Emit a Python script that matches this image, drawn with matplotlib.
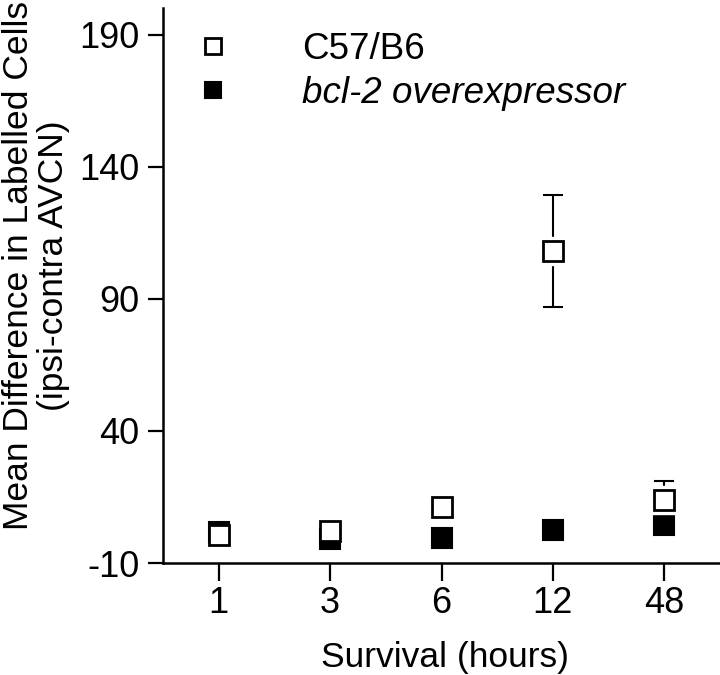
import numpy as np
import matplotlib
matplotlib.use('Agg')
import matplotlib.pyplot as plt
from matplotlib.lines import Line2D

plt.rcParams['font.family'] = ['Liberation Sans', 'DejaVu Sans']

# survival times (hours), plotted as evenly spaced categories
survival = ['1', '3', '6', '12', '48']
c57_mean = [0.5, 2.0, 11.2, 107.9, 13.9]
c57_err = [0, 0, 0, 21.2, 7.3]
bcl2_mean = [1.8, -0.9, -0.4, 2.5, 4.5]
yticks = [-10, 40, 90, 140, 190]

x = np.arange(len(survival))
c57_mean = np.array(c57_mean)
c57_err = np.array(c57_err)

fig = plt.figure(figsize=(7.2, 6.75), dpi=100)
ax = fig.add_axes([0.2264, 0.1659, 0.7736, 0.8221])

ms = 14
ax.plot(x, bcl2_mean, ls='none', marker='s', ms=ms, mfc='black', mec='black',
        mew=1.5, zorder=2, clip_on=False)

# error bars for C57/B6 with a small white gap around the marker
has_err = c57_err > 0
ax.errorbar(x[has_err], c57_mean[has_err], yerr=c57_err[has_err], fmt='none',
            ecolor='black', elinewidth=1.5, capsize=7.5, capthick=1.5, zorder=3)
ax.plot(x[has_err], c57_mean[has_err], ls='none', marker='s', ms=ms + 6,
        mfc='white', mec='white', zorder=4)
ax.plot(x, c57_mean, ls='none', marker='s', ms=ms, mfc='white', mec='black',
        mew=2.0, zorder=5, clip_on=False)

ax.set_xlim(-0.5, 4.5)
ax.set_ylim(-10, 200)
ax.set_xticks(x)
ax.set_xticklabels(survival)
ax.set_yticks(yticks)
ax.set_yticklabels([str(v) for v in yticks])

for s in ['top', 'right']:
    ax.spines[s].set_visible(False)
for s in ['left', 'bottom']:
    ax.spines[s].set_linewidth(1.8)
ax.tick_params(axis='y', length=11, width=1.6, pad=6, labelsize=26)
ax.tick_params(axis='x', length=13, width=1.6, pad=3.5, labelsize=26)

# y label as two centred lines
fig.text(28 / 720, 0.606, 'Mean Difference in Labelled Cells', rotation=90,
         rotation_mode='anchor', ha='center', va='baseline', fontsize=25.5)
fig.text(63 / 720, 0.606, '(ipsi-contra AVCN)', rotation=90,
         rotation_mode='anchor', ha='center', va='baseline', fontsize=25.5)
fig.text(445 / 720, 8 / 675, 'Survival (hours)', ha='center', va='baseline',
         fontsize=25.5)

handles = [Line2D([], [], ls='none', marker='s', ms=12, mfc='white', mec='black', mew=2.0),
           Line2D([], [], ls='none', marker='s', ms=12, mfc='black', mec='black', mew=1.5)]
leg = ax.legend(handles, ['C57/B6', 'bcl-2 overexpressor'], loc='upper left',
                bbox_to_anchor=(-0.002, 1.017), frameon=False, fontsize=26.5,
                handlelength=1.0, handletextpad=1.9, labelspacing=0.25)
leg.get_texts()[1].set_style('italic')

fig.savefig('out.png', dpi=100)
